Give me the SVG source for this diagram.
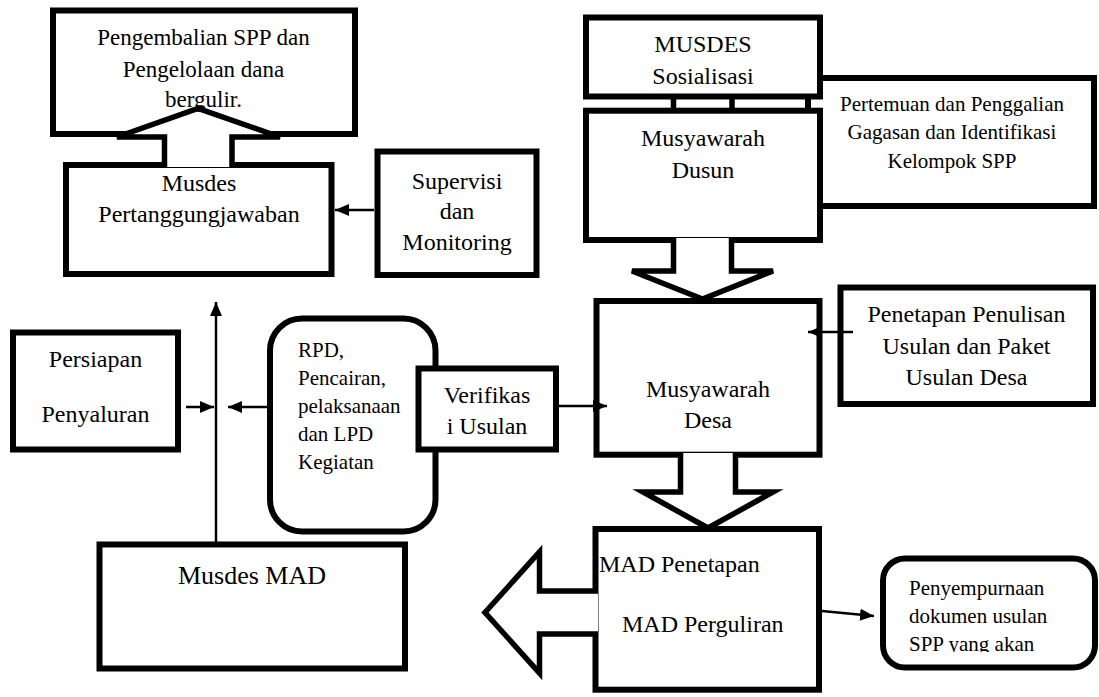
<svg xmlns="http://www.w3.org/2000/svg" width="1099" height="697" viewBox="0 0 1099 697" font-family="Liberation Serif, Times New Roman, Tinos, DejaVu Serif, Noto Serif, FreeSerif, serif">
<style>
.box{fill:#fff;stroke:#000;stroke-width:6}
.s24{font-size:24px}
.s23{font-size:23px}
.s21{font-size:21px}
.s26{font-size:26px}
.c{text-anchor:middle}
.ln{fill:none;stroke:#000;stroke-width:2.5}
.blko{fill:none;stroke:#000;stroke-width:5.5;stroke-linejoin:miter}
.wf{fill:#fff;stroke:none}
</style>
<defs>
<marker id="ah" viewBox="0 0 14 12" refX="14" refY="6" markerWidth="14" markerHeight="12" markerUnits="userSpaceOnUse" orient="auto">
<path d="M0,0 L14,6 L0,12 z" fill="#000"/>
</marker>
<clipPath id="clipPeny"><rect x="886" y="560" width="206" height="92"/></clipPath>
</defs>
<rect width="1099" height="697" fill="#fff"/>

<g id="pengembalian">
<rect class="box" x="53" y="10.5" width="302" height="123.5"/>
<text class="s23 c" x="203.5" y="45" font-family="Liberation Serif">Pengembalian SPP dan</text>
<text class="s23 c" x="203.5" y="77" font-family="Liberation Serif">Pengelolaan dana</text>
<text class="s23 c" x="203.5" y="107" font-family="Liberation Serif">bergulir.</text>
</g>
<g id="musdes-pertanggungjawaban">
<rect class="box" x="66" y="165" width="265.5" height="109"/>
<text class="s24 c" x="199" y="191">Musdes</text>
<text class="s24 c" x="199" y="222">Pertanggungjawaban</text>
</g>
<g id="supervisi">
<rect class="box" x="377.5" y="151.5" width="159" height="123.5"/>
<text class="s24 c" x="457" y="189">Supervisi</text>
<text class="s24 c" x="457" y="219">dan</text>
<text class="s24 c" x="457" y="250">Monitoring</text>
</g>
<g id="pertemuan">
<rect class="box" x="808" y="78" width="286" height="128"/>
<text class="s21 c" x="952" y="111">Pertemuan dan Penggalian</text>
<text class="s21 c" x="952" y="139">Gagasan dan Identifikasi</text>
<text class="s21 c" x="952" y="168">Kelompok SPP</text>
</g>
<g id="musdes-sosialisasi">
<rect class="box" x="586" y="17.5" width="234" height="79"/>
<text class="s24 c" x="703" y="52">MUSDES</text>
<text class="s24 c" x="703" y="84">Sosialisasi</text>
</g>
<g id="musyawarah-dusun">
<rect class="box" x="586" y="110.7" width="234" height="129.3"/>
<text class="s24 c" x="703" y="146">Musyawarah</text>
<text class="s24 c" x="703" y="178">Dusun</text>
</g>
<g id="penetapan">
<rect class="box" x="840.5" y="287.5" width="252.5" height="116.5"/>
<text class="s24 c" x="966.5" y="322">Penetapan Penulisan</text>
<text class="s24 c" x="966.5" y="354">Usulan dan Paket</text>
<text class="s24 c" x="966.5" y="385">Usulan Desa</text>
</g>
<g id="musyawarah-desa">
<rect class="box" x="596.5" y="301" width="223" height="153.7"/>
<text class="s24 c" x="708" y="397">Musyawarah</text>
<text class="s24 c" x="708" y="428">Desa</text>
</g>
<g id="persiapan">
<rect class="box" x="13" y="332.5" width="165" height="117"/>
<text class="s24 c" x="95.5" y="367">Persiapan</text>
<text class="s24 c" x="95.5" y="422">Penyaluran</text>
</g>
<g id="rpd">
<rect class="box" x="270" y="318.5" width="165.5" height="213" rx="32" ry="32"/>
<text class="s21" x="298" y="357">RPD,</text>
<text class="s21" x="298" y="385">Pencairan,</text>
<text class="s21" x="298" y="413">pelaksanaan</text>
<text class="s21" x="298" y="441">dan LPD</text>
<text class="s21" x="298" y="469">Kegiatan</text>
</g>
<g id="verifikasi">
<rect class="box" x="418.5" y="368.5" width="137.5" height="81"/>
<text class="s24 c" x="487" y="403">Verifikas</text>
<text class="s24 c" x="487" y="434">i Usulan</text>
</g>
<g id="musdes-mad">
<rect class="box" x="99.5" y="544.5" width="305.5" height="124"/>
<text class="s26 c" x="252" y="584">Musdes MAD</text>
</g>
<g id="mad">
<rect class="box" x="595.5" y="529" width="223.5" height="160.7"/>
<text class="s24" x="599" y="572">MAD Penetapan</text>
<text class="s24" x="622" y="632">MAD Perguliran</text>
</g>
<g id="penyempurnaan">
<rect class="box" x="883" y="558.5" width="212" height="109" rx="22" ry="22"/>
<g clip-path="url(#clipPeny)">
<text class="s21" x="909" y="595">Penyempurnaan</text>
<text class="s21" x="909" y="623">dokumen usulan</text>
<text class="s21" x="909" y="651">SPP yang akan</text>
</g>
</g>

<g id="connectors">
<polygon class="wf" points="164.5,167 164.5,137 117,137 136.6,130 260.2,130 280,137 232,137 232,167"/>
<polyline class="blko" points="164.5,167 164.5,137 117,137 198,108.5 280,137 232,137 232,167"/>
<line x1="673.5" y1="96" x2="673.5" y2="111" stroke="#000" stroke-width="5.5"/>
<line x1="732" y1="96" x2="732" y2="111" stroke="#000" stroke-width="5.5"/>
<polygon class="wf" points="673.5,238 673.5,271 632,271 702.5,299 773,271 731.5,271 731.5,238"/>
<polyline class="blko" points="673.5,238 673.5,271 632,271 702.5,299 773,271 731.5,271 731.5,238"/>
<polygon class="wf" points="680.5,453 680.5,492 643,492 708,528 773,492 735.5,492 735.5,453"/>
<polyline class="blko" points="680.5,453 680.5,492 643,492 708,528 773,492 735.5,492 735.5,453"/>
<polygon class="wf" points="598,591 539.5,591 539.5,552 485,612.5 539.5,673 539.5,634 598,634"/>
<polyline class="blko" points="598,591 539.5,591 539.5,552 485,612.5 539.5,673 539.5,634 598,634"/>
<line class="ln" x1="374" y1="210" x2="335" y2="210" marker-end="url(#ah)"/>
<line class="ln" x1="216" y1="542" x2="216" y2="302" marker-end="url(#ah)"/>
<line class="ln" x1="186" y1="407" x2="214" y2="407" marker-end="url(#ah)"/>
<line class="ln" x1="267" y1="407" x2="228" y2="407" marker-end="url(#ah)"/>
<line class="ln" x1="559" y1="406" x2="607" y2="406" marker-end="url(#ah)"/>
<line class="ln" x1="853" y1="332" x2="808" y2="332" marker-end="url(#ah)"/>
<line class="ln" x1="822" y1="611" x2="874" y2="616" marker-end="url(#ah)"/>
</g>
</svg>
